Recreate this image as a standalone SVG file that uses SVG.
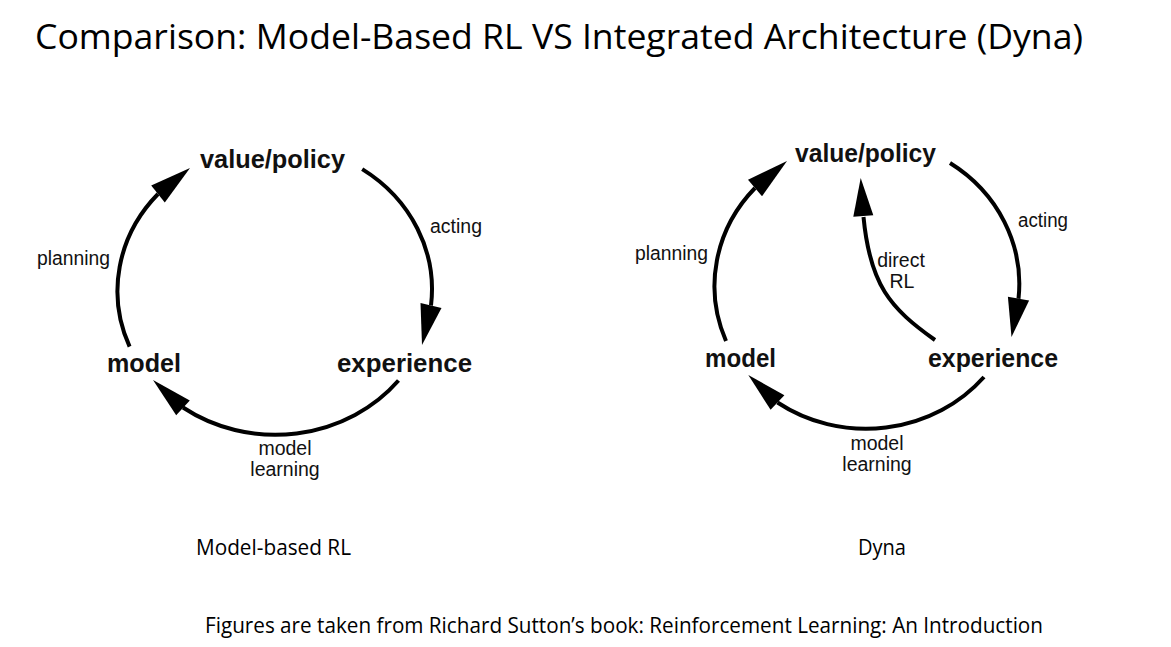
<svg xmlns="http://www.w3.org/2000/svg" width="1171" height="647" viewBox="0 0 1171 647">
  <style>
    .title { font-family: "Open Sans", "Noto Sans", sans-serif; font-size: 34px; fill: #000; }
    .caption { font-family: "Open Sans", "Noto Sans", sans-serif; font-size: 21px; fill: #000; }
    .node { font-family: "Liberation Sans", Arial, Helvetica, sans-serif; font-size: 25px; font-weight: bold; fill: #111; }
    .lbl { font-family: "Liberation Sans", Arial, Helvetica, sans-serif; font-size: 19.5px; fill: #111; }
    .edge { fill: none; stroke: #000; stroke-width: 4; }
    .head { fill: #000; stroke: none; }
  </style>
  <rect x="0" y="0" width="1171" height="647" fill="#fff"/>

  <text class="title" x="35" y="49" textLength="1048" lengthAdjust="spacingAndGlyphs">Comparison: Model-Based RL VS Integrated Architecture (Dyna)</text>

  <!-- Left diagram: Model-based RL -->
  <g id="left-value-policy"><text class="node" x="200" y="168" textLength="145" lengthAdjust="spacingAndGlyphs">value/policy</text></g>
  <g id="left-model"><text class="node" x="107" y="372" textLength="74" lengthAdjust="spacingAndGlyphs">model</text></g>
  <g id="left-experience"><text class="node" x="337" y="372" textLength="135" lengthAdjust="spacingAndGlyphs">experience</text></g>

  <g id="left-connectors">
    <path class="edge" d="M129.6,346.7 A158,145 0 0 1 158,194"/>
    <polygon class="head" points="190,168 164.8,202.4 151.2,185.6"/>
    <path class="edge" d="M362.2,169.1 A158,145 0 0 1 431,305.5"/>
    <polygon class="head" points="422,345 441.5,307.9 420.5,303.1"/>
    <path class="edge" d="M398.5,380.5 A158,145 0 0 1 183,407.5"/>
    <polygon class="head" points="153,380 189.8,400.6 176.2,415.2"/>
    <text class="lbl" x="430" y="233" textLength="52" lengthAdjust="spacingAndGlyphs">acting</text>
    <text class="lbl" x="37" y="265" textLength="73" lengthAdjust="spacingAndGlyphs">planning</text>
    <text class="lbl" x="285" y="455" text-anchor="middle">model</text>
    <text class="lbl" x="285" y="476" text-anchor="middle">learning</text>
  </g>

  <!-- Right diagram: Dyna -->
  <g id="right-value-policy"><text class="node" x="795" y="162" textLength="141" lengthAdjust="spacingAndGlyphs">value/policy</text></g>
  <g id="right-model"><text class="node" x="705" y="367" textLength="71" lengthAdjust="spacingAndGlyphs">model</text></g>
  <g id="right-experience"><text class="node" x="928" y="367" textLength="130" lengthAdjust="spacingAndGlyphs">experience</text></g>

  <g id="right-connectors">
    <path class="edge" d="M726,341 A154,145 0 0 1 755,188"/>
    <polygon class="head" points="787,161 762,196.3 748,179.8"/>
    <path class="edge" d="M950,163 A154,145 0 0 1 1018.5,298.7"/>
    <polygon class="head" points="1011.5,337 1029.1,300.6 1007.9,296.8"/>
    <path class="edge" d="M984,377 A154,145 0 0 1 777.5,402.5"/>
    <polygon class="head" points="748.3,375 784.4,395.2 770.6,409.8"/>
    <path class="edge" d="M935,340 C890,308 870,285 863.5,217"/>
    <polygon class="head" points="860.7,178 873.3,215.3 853.3,216.7"/>
    <text class="lbl" x="1018" y="227" textLength="50" lengthAdjust="spacingAndGlyphs">acting</text>
    <text class="lbl" x="635" y="260" textLength="73" lengthAdjust="spacingAndGlyphs">planning</text>
    <text class="lbl" x="901" y="267" text-anchor="middle">direct</text>
    <text class="lbl" x="902" y="288" text-anchor="middle">RL</text>
    <text class="lbl" x="877" y="450" text-anchor="middle">model</text>
    <text class="lbl" x="877" y="471" text-anchor="middle">learning</text>
  </g>

  <text class="caption" x="196" y="555" textLength="155" lengthAdjust="spacingAndGlyphs">Model-based RL</text>
  <text class="caption" x="858" y="555" textLength="48" lengthAdjust="spacingAndGlyphs">Dyna</text>
  <text class="caption" x="205" y="633" textLength="838" lengthAdjust="spacingAndGlyphs">Figures are taken from Richard Sutton’s book: Reinforcement Learning: An Introduction</text>
</svg>
